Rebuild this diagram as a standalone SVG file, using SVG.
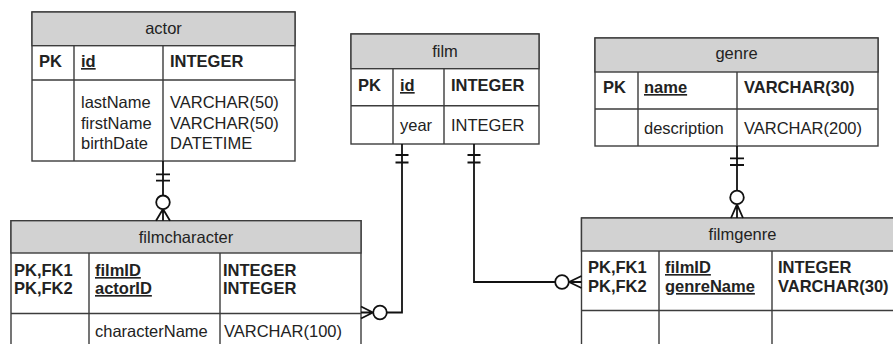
<svg xmlns="http://www.w3.org/2000/svg" width="893" height="344" viewBox="0 0 893 344">
  <style>
    text { font-family: "Liberation Sans", Arial, sans-serif; font-size: 16.5px; fill: #222222; }
    .title { text-anchor: middle; }
    .b { font-weight: bold; }
    .u { text-decoration: underline; }
    .frame { fill: #ffffff; stroke: #3c3c3c; stroke-width: 1.4; }
    .head { fill: #d2d2d2; stroke: #3c3c3c; stroke-width: 1.4; }
    .grid { stroke: #3c3c3c; stroke-width: 1.4; fill: none; }
    .rel { stroke: #111111; stroke-width: 1.8; fill: none; }
    .ring { stroke: #111111; stroke-width: 1.8; fill: #ffffff; }
  </style>

  <!-- actor -->
  <g id="actor">
    <rect class="frame" x="32" y="12" width="263" height="149"/>
    <rect class="head" x="32" y="12" width="263" height="33.7"/>
    <path class="grid" d="M32 80H295M74 45.7V161M163 45.7V161"/>
    <text class="title" x="163.5" y="34">actor</text>
    <text class="b" x="39" y="67">PK</text>
    <text class="b u" x="81" y="67">id</text>
    <text class="b" x="170" y="67">INTEGER</text>
    <text x="81" y="108">lastName</text>
    <text x="81" y="128.5">firstName</text>
    <text x="81" y="149">birthDate</text>
    <text x="170" y="108">VARCHAR(50)</text>
    <text x="170" y="128.5">VARCHAR(50)</text>
    <text x="170" y="149">DATETIME</text>
  </g>

  <!-- film -->
  <g id="film">
    <rect class="frame" x="351" y="34" width="188" height="110"/>
    <rect class="head" x="351" y="34" width="188" height="34.7"/>
    <path class="grid" d="M351 105.7H539M393 68.7V144M444 68.7V144"/>
    <text class="title" x="445" y="57">film</text>
    <text class="b" x="358" y="91">PK</text>
    <text class="b u" x="400" y="91">id</text>
    <text class="b" x="451" y="91">INTEGER</text>
    <text x="400" y="131">year</text>
    <text x="451" y="131">INTEGER</text>
  </g>

  <!-- genre -->
  <g id="genre">
    <rect class="frame" x="595" y="38" width="283" height="108"/>
    <rect class="head" x="595" y="38" width="283" height="34"/>
    <path class="grid" d="M595 109H878M638 72V146M737 72V146"/>
    <text class="title" x="736.5" y="59">genre</text>
    <text class="b" x="603" y="93">PK</text>
    <text class="b u" x="644" y="93">name</text>
    <text class="b" x="744" y="93">VARCHAR(30)</text>
    <text x="644" y="134">description</text>
    <text x="744" y="134">VARCHAR(200)</text>
  </g>

  <!-- filmcharacter -->
  <g id="filmcharacter">
    <rect class="frame" x="11" y="220.7" width="350" height="140"/>
    <rect class="head" x="11" y="220.7" width="350" height="32.3"/>
    <path class="grid" d="M11 313.5H361M89 253V361M220 253V361"/>
    <text class="title" x="186" y="243">filmcharacter</text>
    <text class="b" x="14" y="276">PK,FK1</text>
    <text class="b" x="14" y="294">PK,FK2</text>
    <text class="b u" x="95" y="276">filmID</text>
    <text class="b u" x="95" y="294">actorID</text>
    <text class="b" x="223" y="276">INTEGER</text>
    <text class="b" x="223" y="294">INTEGER</text>
    <text x="95" y="337">characterName</text>
    <text x="224" y="337">VARCHAR(100)</text>
  </g>

  <!-- filmgenre -->
  <g id="filmgenre">
    <rect class="frame" x="581.5" y="218" width="322" height="143"/>
    <rect class="head" x="581.5" y="218" width="322" height="33"/>
    <path class="grid" d="M581.5 310.5H904M659 251V361M772 251V361"/>
    <text class="title" x="742.5" y="240">filmgenre</text>
    <text class="b" x="588" y="273">PK,FK1</text>
    <text class="b" x="588" y="292">PK,FK2</text>
    <text class="b u" x="665" y="273">filmID</text>
    <text class="b u" x="665" y="292">genreName</text>
    <text class="b" x="778" y="273">INTEGER</text>
    <text class="b" x="778" y="292">VARCHAR(30)</text>
  </g>

  <!-- relationships: one-and-only-one to zero-or-many -->
  <g id="connectors">
    <!-- actor to filmcharacter -->
    <path class="rel" d="M163 161V195M156 174.3H170M156 180.7H170M163 209L156 220.7M163 209V220.7M163 209L170 220.7"/>
    <circle class="ring" cx="163" cy="202.3" r="6.8"/>

    <!-- film to filmcharacter -->
    <path class="rel" d="M402 144V312.5H387M395.5 155H408.5M395.5 162.5H408.5M373 312.5L361 306.5M373 312.5H361M373 312.5L361 318.5"/>
    <circle class="ring" cx="380" cy="312.5" r="6.8"/>

    <!-- film to filmgenre -->
    <path class="rel" d="M474 144V282H555M467.5 155H480.5M467.5 162.5H480.5M569 282L581.5 276M569 282H581.5M569 282L581.5 288"/>
    <circle class="ring" cx="562" cy="282" r="6.8"/>

    <!-- genre to filmgenre -->
    <path class="rel" d="M737 146V190.5M730 158.3H744M730 165H744M737 204.3L731 218M737 204.3V218M737 204.3L743 218"/>
    <circle class="ring" cx="737" cy="197.4" r="6.8"/>
  </g>
</svg>
